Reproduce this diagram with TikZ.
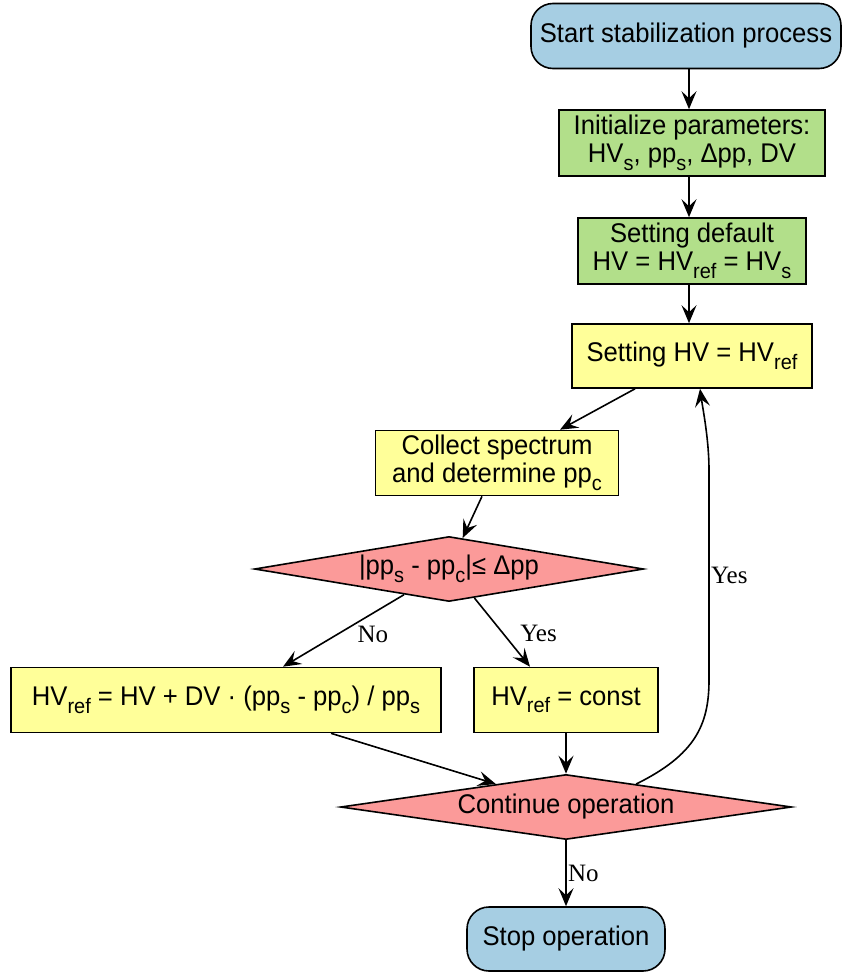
\documentclass[tikz,border=0pt]{standalone}
\usepackage{fontspec}
\setmainfont{Liberation Sans}[FakeStretch=0.95]
\newfontfamily\edgefont{Liberation Serif}
\usepackage{xcolor}
\usepackage{tikz}
\usetikzlibrary{arrows.meta,positioning,calc,shapes.geometric}
\definecolor{termblue}{HTML}{A6CEE3}
\definecolor{initgreen}{HTML}{B2DF8A}
\definecolor{procyellow}{HTML}{FFFF99}
\definecolor{decred}{HTML}{FB9A99}
\newcommand{\lowsub}[1]{\raisebox{-0.28em}{\fontsize{21}{21}\selectfont #1}}

\begin{document}
\begin{tikzpicture}[x=1pt,y=-1pt,
  font=\fontsize{27}{28}\selectfont,
  box/.style={draw,line width=1.6pt,align=center,inner sep=2pt},
  term/.style={box,rounded corners=22pt,fill=termblue},
  init/.style={box,fill=initgreen},
  proc/.style={box,fill=procyellow},
  decision/.style={box,diamond,aspect=6,inner sep=0pt,fill=decred},
  flow/.style={line width=1.6pt,-{Stealth[length=18pt,width=15pt,inset=7pt]}},
  lab/.style={font=\edgefont\fontsize{25}{25}\selectfont}]
  \useasboundingbox (0,0) rectangle (845,974);
  \node[term,minimum width=310,minimum height=65] (start) at (686,36) {Start stabilization process};
  \node[init,minimum width=266,minimum height=66] (param) at (692,143) {Initialize parameters:\\HV\lowsub{s}, pp\lowsub{s}, Δpp, DV};
  \node[init,minimum width=228,minimum height=66] (default) at (692,251) {Setting default\\HV = HV\lowsub{ref} = HV\lowsub{s}};
  \node[proc,minimum width=240,minimum height=64] (sethv) at (692,356) {Setting HV = HV\lowsub{ref}};
  \node[proc,minimum width=243,minimum height=65] (collect) at (497,463) {Collect spectrum\\and determine pp\lowsub{c}};
  \node[decision,minimum width=389,minimum height=65] (check) at (449,569) {|pp\lowsub{s} - pp\lowsub{c}|≤ Δpp};
  \node[proc,minimum width=430,minimum height=65] (update) at (226,700) {HV\lowsub{ref} = HV + DV · (pp\lowsub{s} - pp\lowsub{c}) / pp\lowsub{s}};
  \node[proc,minimum width=184,minimum height=65] (keep) at (566,700) {HV\lowsub{ref} = const};
  \node[decision,minimum width=451,minimum height=65] (cont) at (566,807) {Continue operation};
  \node[term,minimum width=198,minimum height=64] (stop) at (566,939) {Stop operation};

  \draw[flow] ([xshift=3pt]start.south) -- ([xshift=-3pt]param.north);
  \draw[flow] ([xshift=-3pt]param.south) -- ([xshift=-3pt]default.north);
  \draw[flow] ([xshift=-3pt]default.south) -- ([xshift=-3pt]sethv.north);
  \draw[flow] ([xshift=-57pt]sethv.south) -- ([xshift=63pt]collect.north);
  \draw[flow] ([xshift=-15pt]collect.south) -- ($(check.north)!0.07!(check.east)$);
  \draw[flow] ($(check.south)!0.23!(check.west)$) -- node[lab,pos=0.55,right=16pt] {No} ([xshift=57pt]update.north);
  \draw[flow] ($(check.south)!0.13!(check.east)$) -- node[lab,pos=0.52,right=13pt] {Yes} ([xshift=-36pt]keep.north);
  \draw[flow] ([xshift=105pt]update.south) -- ($(cont.north)!0.31!(cont.west)$);
  \draw[flow] (keep.south) -- (cont.north);
  \draw[flow] (cont.south) -- node[lab,pos=0.5,right=-2pt] {No} (stop.north);
  % loop back
  \draw[flow] ($(cont.north)!0.31!(cont.east)$) .. controls (695,755) and (709,725) .. (709,680)
    -- node[lab,right=-2pt] {Yes} (709,470) .. controls (709,440) and (703,410) .. ([xshift=8pt]sethv.south);
\end{tikzpicture}
\end{document}
